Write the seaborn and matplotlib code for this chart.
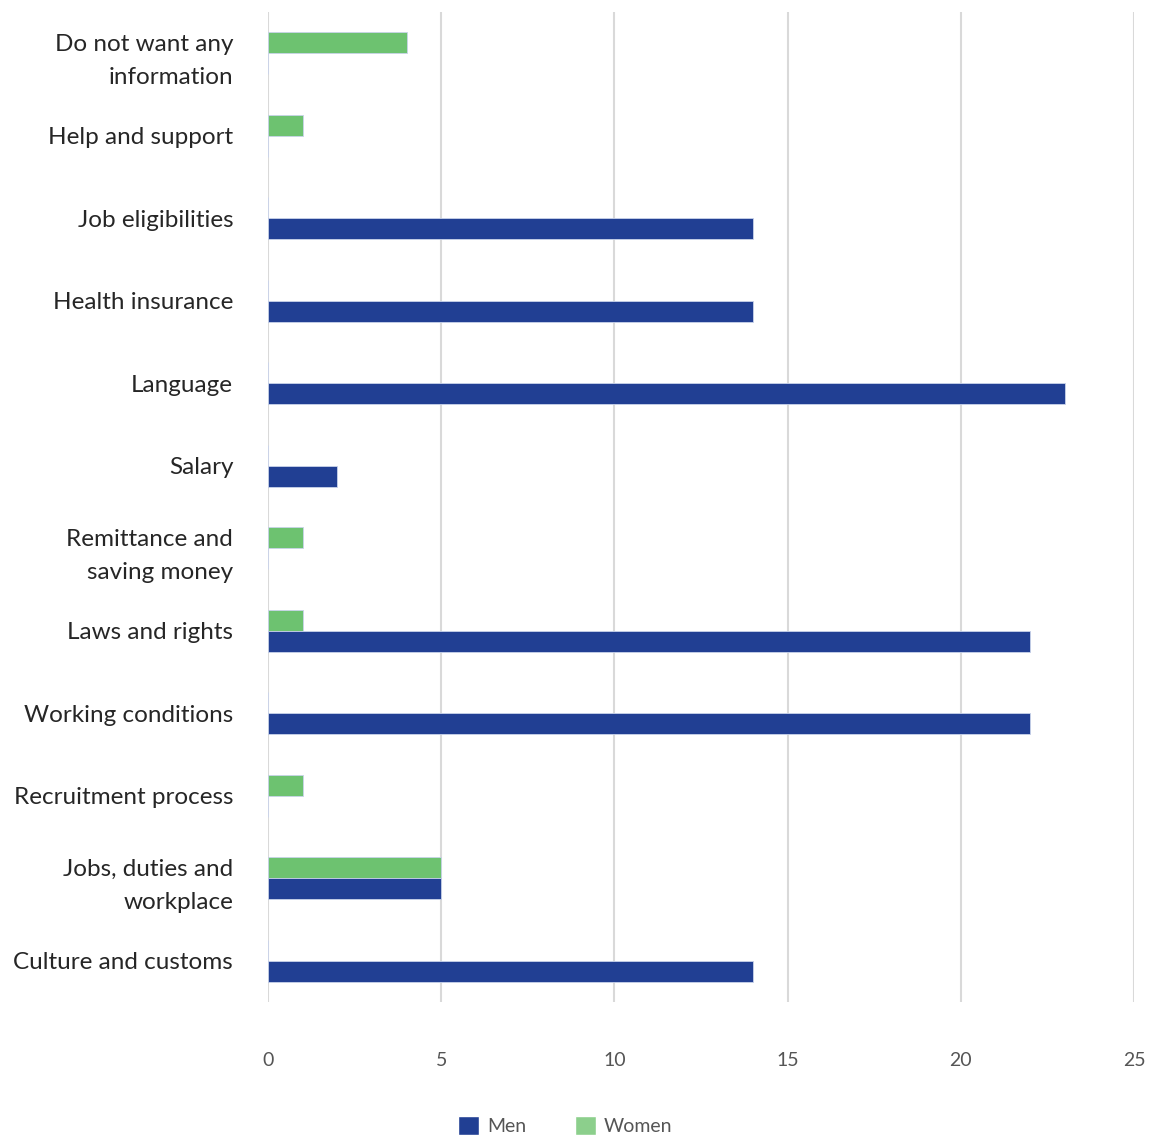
import matplotlib
matplotlib.use("Agg")
import matplotlib.pyplot as plt
import seaborn as sns
import pandas as pd
from matplotlib.patches import Patch

categories = [
    "Do not want any\ninformation",
    "Help and support",
    "Job eligibilities",
    "Health insurance",
    "Language",
    "Salary",
    "Remittance and\nsaving money",
    "Laws and rights",
    "Working conditions",
    "Recruitment process",
    "Jobs, duties and\nworkplace",
    "Culture and customs",
]
men = [0, 0, 14, 14, 23, 2, 0, 22, 22, 0, 5, 14]
women = [4, 1, 0, 0, 0, 0, 1, 1, 0, 1, 5, 0]
x_ticks = [0, 5, 10, 15, 20, 25]

MEN_COLOR = "#213f93"
WOMEN_COLOR = "#6dc270"

df = pd.DataFrame({
    "category": categories * 2,
    "value": women + men,
    "group": ["Women"] * len(categories) + ["Men"] * len(categories),
})

sns.set_theme(style="white")
plt.rcParams["font.family"] = ["Lato", "DejaVu Sans"]

fig = plt.figure(figsize=(11.53, 11.35), dpi=100)
ax = fig.add_axes([0.2324, 0.1172, 0.7511, 0.8722])

sns.barplot(
    data=df, x="value", y="category", hue="group",
    hue_order=["Women", "Men"], order=categories,
    palette={"Women": WOMEN_COLOR, "Men": MEN_COLOR},
    saturation=1, orient="h", width=0.51, ax=ax, legend=False,
    edgecolor="#c9d3ea", linewidth=0.6,
)

ax.set_xlim(0, 25)
ax.set_xticks(x_ticks)
ax.set_xticklabels([str(t) for t in x_ticks])
ax.set_xlabel("")
ax.set_ylabel("")
ax.xaxis.grid(True, color="#d9d9d9", linewidth=1.5)
ax.set_axisbelow(True)
for s in ax.spines.values():
    s.set_visible(False)
ax.tick_params(axis="x", length=0, pad=36, labelsize=14, labelcolor="#555555")
ax.tick_params(axis="y", length=0, pad=25, labelsize=17.5, labelcolor="#262626")
for lbl in ax.get_yticklabels():
    lbl.set_linespacing(1.7)

handles = [Patch(facecolor=MEN_COLOR, label="Men"),
           Patch(facecolor="#8ccf8c", label="Women")]
fig.legend(handles=handles, loc="center", bbox_to_anchor=(0.49, 0.008),
           ncol=2, frameon=False, fontsize=14, handlelength=1.1,
           handleheight=1.1, columnspacing=2.5, handletextpad=0.4,
           labelcolor="#555555")

fig.savefig("out.png", dpi=100)
